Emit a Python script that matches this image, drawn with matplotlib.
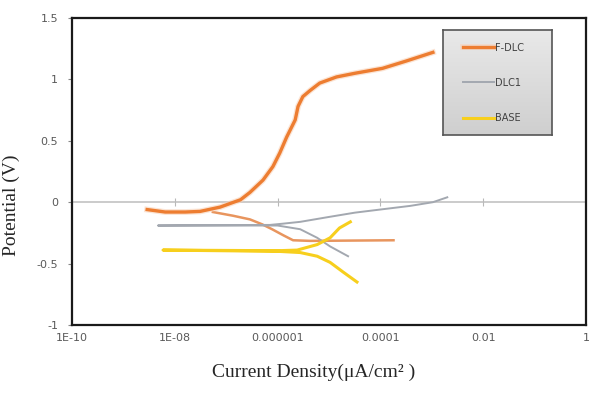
import numpy as np
import matplotlib
matplotlib.use("Agg")
import matplotlib.pyplot as plt
import matplotlib.ticker as mticker
import matplotlib.patheffects as pe

# F-DLC: anodic branch (incl. flat part at Ecorr) and cathodic branch
fdlc_an_i = [2.9e-9, 6.5e-9, 1.6e-8, 3.1e-8, 7.6e-8, 1.9e-7, 2.9e-7, 5.2e-7, 8.1e-7,
             1.1e-6, 1.5e-6, 2.2e-6, 2.5e-6, 3.1e-6, 4.3e-6, 6.6e-6, 1.4e-5, 3.2e-5,
             1.1e-4, 3.2e-4, 1.05e-3]
fdlc_an_e = [-0.06, -0.08, -0.08, -0.075, -0.04, 0.02, 0.08, 0.18, 0.29,
             0.40, 0.53, 0.67, 0.78, 0.86, 0.91, 0.97, 1.02, 1.05,
             1.09, 1.15, 1.22]
fdlc_ca_i = [5.5e-8, 1.35e-7, 2.9e-7, 5.0e-7, 7.8e-7, 1.3e-6, 2.0e-6, 4.3e-6, 1.8e-4]
fdlc_ca_e = [-0.08, -0.11, -0.14, -0.18, -0.22, -0.27, -0.31, -0.315, -0.31]

# DLC1
dlc1_i = [2.35e-5, 1.05e-5, 5.9e-6, 2.75e-6, 1.0e-6, 3.2e-7, 4.7e-9, 7.1e-7, 1.26e-6,
          2.75e-6, 1.0e-5, 3.2e-5, 9.8e-5, 3.8e-4, 1.05e-3, 2.0e-3]
dlc1_e = [-0.44, -0.36, -0.29, -0.22, -0.19, -0.19, -0.19, -0.185, -0.175,
          -0.16, -0.12, -0.085, -0.06, -0.03, 0.0, 0.04]

# BASE
base_i = [3.5e-5, 1.9e-5, 1.05e-5, 5.9e-6, 2.75e-6, 1.0e-6, 5.9e-9, 1.0e-6, 2.4e-6,
          5.9e-6, 1.05e-5, 1.6e-5, 2.6e-5]
base_e = [-0.65, -0.57, -0.49, -0.44, -0.41, -0.40, -0.39, -0.395, -0.39,
          -0.345, -0.29, -0.21, -0.16]

xticks = [1e-10, 1e-8, 1e-6, 1e-4, 1e-2, 1]
xticklabels = ["1E-10", "1E-08", "0.000001", "0.0001", "0.01", "1"]
yticks = [-1, -0.5, 0, 0.5, 1, 1.5]
yticklabels = ["-1", "-0.5", "0", "0.5", "1", "1.5"]

c_fdlc = "#ED7D31"
c_dlc1 = "#A3A8B0"
c_base = "#F7CF1D"

fig = plt.figure(figsize=(5.91, 4.03), dpi=100)
ax = fig.add_axes([72 / 591, 1 - 325 / 403, 514 / 591, 307 / 403])

ax.set_xscale("log")
ax.set_xlim(1e-10, 1)
ax.set_ylim(-1, 1.5)

halo = [pe.Stroke(linewidth=4.2, foreground="#F9D2B8", alpha=0.6), pe.Normal()]
l1, = ax.plot(fdlc_an_i, fdlc_an_e, color=c_fdlc, lw=2.4, path_effects=halo, zorder=4)
ax.plot(fdlc_ca_i, fdlc_ca_e, color="#E8955E", lw=1.8, zorder=3)
l2, = ax.plot(dlc1_i, dlc1_e, color=c_dlc1, lw=1.4, zorder=3)
l3, = ax.plot(base_i, base_e, color=c_base, lw=2.2, zorder=3)

ax.set_xticks(xticks)
ax.set_xticklabels(xticklabels)
ax.xaxis.set_minor_locator(mticker.NullLocator())
ax.set_yticks(yticks)
ax.set_yticklabels(yticklabels)
ax.tick_params(axis="x", length=0, pad=6, labelsize=8, labelcolor="#595959")
ax.tick_params(axis="y", length=3, width=0.8, color="#888888", pad=7,
               labelsize=8, labelcolor="#595959")
for s in ax.spines.values():
    s.set_linewidth(1.6)
    s.set_color("#1a1a1a")

# horizontal axis line at 0 V with cross ticks (Excel style)
sec = ax.secondary_xaxis(0.4)
sec.set_xticks(xticks[1:-1])
sec.xaxis.set_minor_locator(mticker.NullLocator())
sec.tick_params(axis="x", direction="inout", length=6, width=0.8,
                color="#B8B8B8", labelbottom=False, labeltop=False)
for s in sec.spines.values():
    s.set_color("#BDBDBD")
    s.set_linewidth(1.1)

ax.set_ylabel("Potential (V)", family="Liberation Serif", fontsize=14, color="#262626")
ax.yaxis.set_label_coords(-0.101, 0.391)
ax.set_xlabel("Current Density(\u03bcA/cm\u00b2 )", family="Liberation Serif",
              fontsize=14, color="#262626", va="center")
ax.xaxis.set_label_coords(0.471, -0.153)

# legend box with gradient
lax = fig.add_axes([443 / 591, 1 - 135 / 403, 109 / 591, 105 / 403])
grad = np.linspace(0, 1, 100).reshape(-1, 1)
lax.imshow(grad, aspect="auto", extent=[0, 1, 0, 1],
           cmap=matplotlib.colors.LinearSegmentedColormap.from_list("g", ["#E9E9E9", "#CFCFCF"]))
lax.set_xlim(0, 1)
lax.set_ylim(0, 1)
lax.set_xticks([])
lax.set_yticks([])
for s in lax.spines.values():
    s.set_color("#555555")
    s.set_linewidth(1.2)
lax.legend([l1, l2, l3], ["F-DLC", "DLC1", "BASE"], loc="upper left",
           bbox_to_anchor=(0.18, 0.88), frameon=False, borderpad=0, borderaxespad=0,
           handlelength=3.2, handletextpad=0.1, labelspacing=2.6,
           prop={"size": 7}, labelcolor="#404040")

fig.savefig("out.png", dpi=100)
